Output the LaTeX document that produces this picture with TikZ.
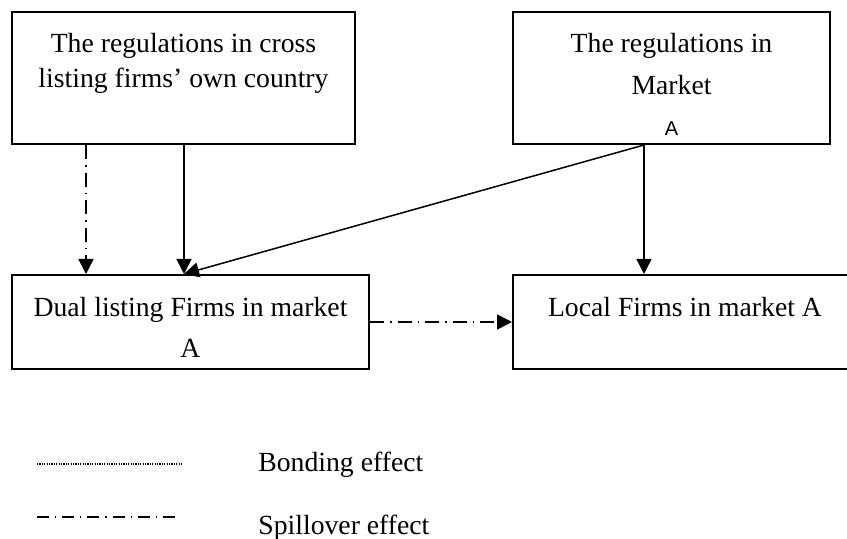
\documentclass[tikz,border=0pt]{standalone}
\usepackage{fontspec}
\setmainfont{Liberation Serif}
\setsansfont{Liberation Sans}
\usetikzlibrary{arrows.meta}
\usetikzlibrary{positioning}
\usetikzlibrary{calc}
\tikzstyle{box}=[draw,line width=1pt,rectangle,inner sep=0pt]
\tikzstyle{txt}=[anchor=base,inner sep=0pt,font=\fontsize{13.85}{16}\selectfont]
\tikzstyle{edge} = [draw,line width=0.75pt,-{Triangle[length=7.5pt,width=7.5pt]}]
\tikzstyle{spill} = [dash pattern=on 7pt off 3pt on 0.8pt off 3pt]
\tikzstyle{bond} = [line width=0.6pt,dash pattern=on 0.6pt off 0.6pt]

\begin{document}
\begin{tikzpicture}[x=0.5pt,y=-0.5pt]
\useasboundingbox (0,0) rectangle (847,539);

    % boxes
    \foreach \pos/\name/\w/\h in {{(183.5,78)/own/343/132}, {(671.5,78)/regA/317/132}, {(190.5,322)/dual/357/94}, {(685,322)/local/344/94}}
        \node[box,minimum width=\w*0.5pt,minimum height=\h*0.5pt] (\name) at \pos {};

    % text lines
    \foreach \pos/\name/\lbl in {{(183.5,53)/own1/The regulations in cross}, {(183.5,88)/own2/listing firms’ own country}, {(671.5,53)/regA1/The regulations in}, {(671.5,95)/regA2/Market}, {(190.5,317)/dual1/Dual listing Firms in market}, {(190.5,358)/dual2/A}, {(685,317)/local1/Local Firms in market A}}
        \node[txt] (\name) at \pos {\lbl};
\node[txt,font=\sffamily\fontsize{10}{12}\selectfont] (regA3) at (671.5,136) {A};

\coordinate (o1) at ($(own.south west)+(75,0)$);
\coordinate (o2) at ($(own.south west)+(173,0)$);
\coordinate (d1) at ($(dual.north west)+(75,0)$);
\coordinate (d2) at ($(dual.north west)+(173,0)$);
\coordinate (r1) at ($(regA.south west)+(132,0)$);
\coordinate (l1) at ($(local.north west)+(132,0)$);

    % effects
  \path[edge,spill] (o1) -- (d1);
  \foreach \source/ \dest in {o2/d2, r1/d2, r1/l1}
          \path[edge] (\source) -- (\dest);
  \path[edge,spill] (dual) -- (local);

    % legend
\coordinate (b0) at (37,464); \coordinate (b1) at (182,464);
\draw[bond] (b0) -- (b1);
\node[txt,anchor=base west] (bondtxt) at (258,472) {Bonding effect};
\coordinate (s0) at (37,517); \coordinate (s1) at (180,517);
\draw[line width=1pt,dash pattern=on 6pt off 3pt on 0.6pt off 3pt] (s0) -- (s1);
\node[txt,anchor=base west] (spilltxt) at (258,535) {Spillover effect};

    \end{tikzpicture}
\end{document}
